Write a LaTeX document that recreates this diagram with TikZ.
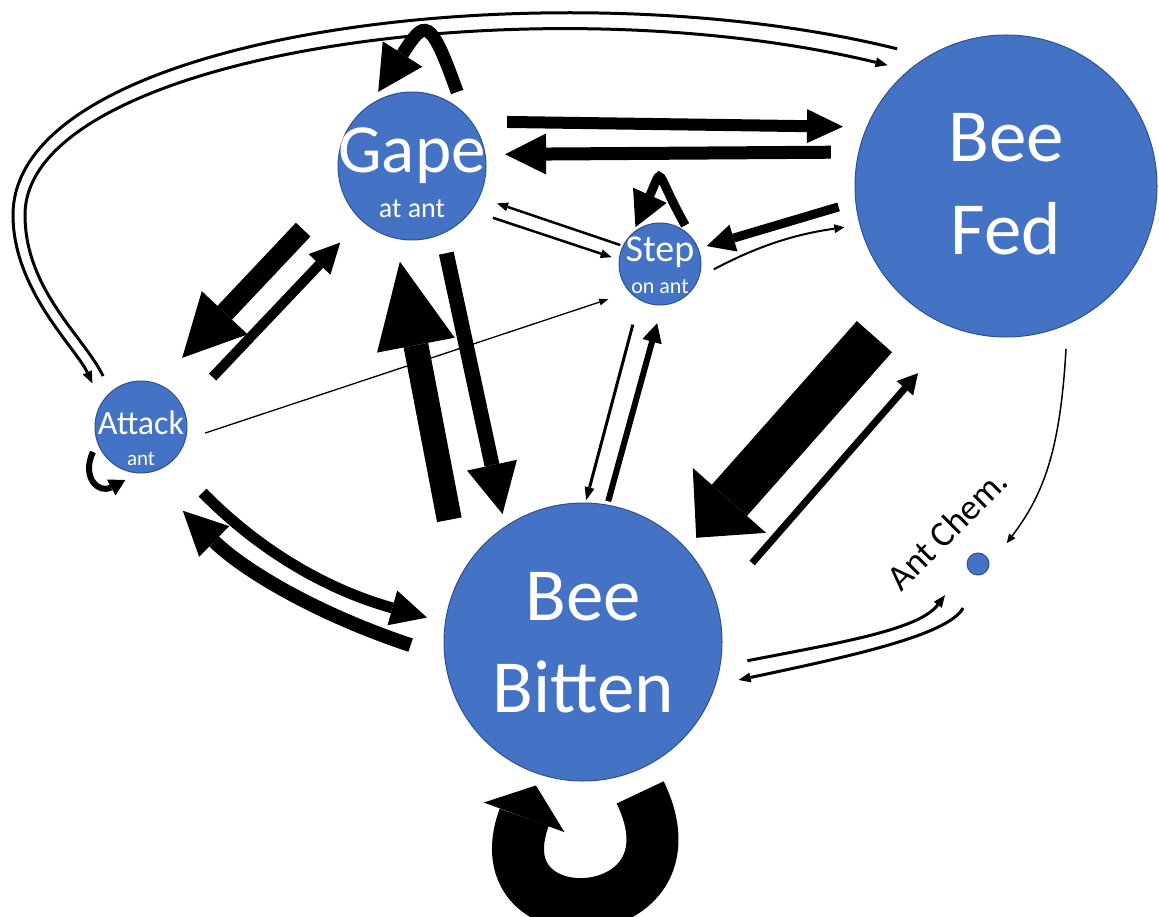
\documentclass[tikz,border=0pt]{standalone}
\usepackage{fontspec}
\setmainfont{Carlito}
\usetikzlibrary{arrows.meta}
\definecolor{nodeblue}{HTML}{4472C4}
\definecolor{nodeedge}{HTML}{2F528F}
\begin{document}
\begin{tikzpicture}[x=1pt,y=-1pt,
 st/.style={circle,fill=nodeblue,draw=nodeedge,line width=1pt,inner sep=0pt,outer sep=0pt},
 txt/.style={text=white,anchor=base,inner sep=0pt},
 arr/.style n args={3}{line width=#1pt,-{Triangle[width=#2pt,length=#3pt,line width=0pt]}}]
\newcommand\fsz[1]{\fontsize{#1}{#1}\selectfont}
\useasboundingbox (0,0) rectangle (1159,917);
\node[st,minimum size=148pt] (gape) at (412,166) {};
\node[st,minimum size=302pt] (fed) at (1006,186) {};
\node[st,minimum size=82pt] (step) at (660,264) {};
\node[st,minimum size=92pt] (attack) at (141,427) {};
\node[st,minimum size=278pt] (bitten) at (583,642) {};
\node[st,minimum size=22pt] (chem) at (978,564) {};
\node[txt,font=\fsz{69}] (gape1) at ([yshift=-7pt]gape.center) {Gape};
\node[txt,font=\fsz{28}] (gape2) at ([yshift=-52pt]gape.center) {at ant};
\node[txt,font=\fsz{75}] (fed1) at ([yshift=24pt]fed.center) {Bee};
\node[txt,font=\fsz{75}] (fed2) at ([yshift=-69pt]fed.center) {Fed};
\node[txt,font=\fsz{38}] (step1) at ([yshift=2pt]step.center) {Step};
\node[txt,font=\fsz{22}] (step2) at ([yshift=-30pt]step.center) {on ant};
\node[txt,font=\fsz{34}] (attack1) at ([yshift=-7pt]attack.center) {Attack};
\node[txt,font=\fsz{21}] (attack2) at ([yshift=-38pt]attack.center) {ant};
\node[txt,font=\fsz{75}] (bitten1) at ([yshift=22pt]bitten.center) {Bee};
\node[txt,font=\fsz{75}] (bitten2) at ([yshift=-70pt]bitten.center) {Bitten};
\node[anchor=base,inner sep=0pt,rotate=45,font=\fsz{36}] (chemtxt) at ([xshift=-22pt,yshift=26pt]chem.center) {Ant Chem.};
\draw[arr={12}{34}{36},shorten <=36pt,shorten >=24pt] (gape.37) -- (fed.157);
\draw[arr={13}{41}{41},shorten <=28pt,shorten >=20pt] (fed.167) -- (gape.9);
\draw[arr={2.5}{9}{11},shorten <=3pt,shorten >=19pt] (step.154) -- (gape.335);
\draw[arr={2.5}{9}{11},shorten <=23pt,shorten >=8pt] (gape.323) -- (step.174);
\draw[arr={9}{28}{28},shorten <=18pt,shorten >=9pt] (fed.186) -- (step.22);
\draw[arr={2}{9}{10},shorten <=17pt,shorten >=16pt] (step.341) to[bend left=10] (fed.195);
\draw[arr={20}{63}{62},shorten <=56pt,shorten >=36pt] (gape.198) -- (attack.69);
\draw[arr={10}{30}{30},shorten <=43pt,shorten >=31pt] (attack.24) -- (gape.227);
\draw[arr={1.3}{7}{9},shorten <=21pt,shorten >=23pt] (attack.344) -- (step.223);
\draw[arr={11}{36}{36},shorten <=44pt,shorten >=19pt] (attack.312) to[bend right=15] (bitten.172);
\draw[arr={14}{43}{44},shorten <=36pt,shorten >=54pt] (bitten.186) to[bend left=13] (attack.274);
\draw[arr={25}{79}{85},shorten <=58pt,shorten >=24pt] (bitten.152) -- (gape.257);
\draw[arr={15}{51}{50},shorten <=20pt,shorten >=13pt] (gape.294) -- (bitten.124);
\draw[arr={3}{10}{13},shorten <=26pt,shorten >=3pt] (step.240) -- (bitten.89);
\draw[arr={6}{20}{19},shorten <=4pt,shorten >=19pt] (bitten.80) -- (step.273);
\draw[arr={47}{98}{50},shorten <=49pt,shorten >=15pt] (fed.229) -- (bitten.42);
\draw[arr={7}{22}{20},shorten <=54pt,shorten >=59pt] (bitten.16) -- (fed.251);
\draw[arr={3}{10}{12},shorten <=32pt,shorten >=22pt] (fed.121) .. controls (560,-35) and (13,30) .. (13,215) .. controls (13,290) and (76,348) .. (attack.149);
\draw[arr={3}{10}{12},shorten <=18pt,shorten >=22pt] (attack.131) .. controls (85,338) and (25,290) .. (25,215) .. controls (25,55) and (535,-20) .. (fed.130);
\draw[arr={13}{47}{45},shorten <=24pt,shorten >=16pt] (gape.44) .. controls (430,16) and (425,19) .. (gape.125);
\draw[arr={9}{37}{35},shorten <=23pt,shorten >=7pt] (step.27) .. controls (654,170) and (664,164) .. (step.132);
\draw[arr={6}{18}{16},shorten <=11pt,shorten >=15pt] (attack.199) .. controls (81,478) and (99,494) .. (attack.267);
\draw[arr={52}{86}{34},shorten <=22pt,shorten >=12pt] (bitten.290) .. controls (707,930) and (478,943) .. (bitten.252);
\draw[arr={1.5}{8}{9},shorten <=25pt,shorten >=31pt] (fed.294) .. controls (1060,455) and (1042,496) .. (chem.339);
\draw[arr={3}{10}{12},shorten <=28pt,shorten >=37pt] (bitten.350) .. controls (838,643) and (919,630) .. (chem.188);
\draw[arr={3}{10}{12},shorten <=38pt,shorten >=24pt] (chem.286) .. controls (948,636) and (842,658) .. (bitten.342);
\end{tikzpicture}
\end{document}
